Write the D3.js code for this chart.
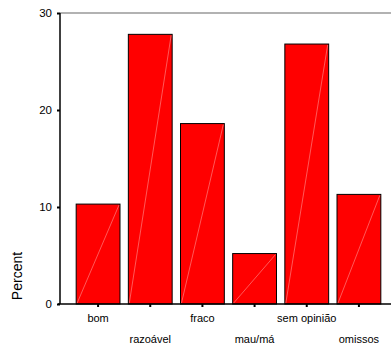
<!DOCTYPE html>
<html><head><meta charset="utf-8">
<script src="https://cdn.jsdelivr.net/npm/d3@7"></script>
<style>body{margin:0;background:#fff}svg{display:block}text{font-family:"Liberation Sans",Arial,sans-serif;fill:#000}</style>
</head><body><svg id="c" width="391" height="351"></svg>
<script>
const categories = ["bom","razoável","fraco","mau/má","sem opinião","omissos"];
const percents = [10.3, 27.8, 18.6, 5.2, 26.8, 11.3];
const yTicks = [0, 10, 20, 30];

const svg = d3.select("#c");
const x = d3.scaleBand().domain(categories).range([72, 385]).paddingInner(0.16).paddingOuter(0.08);
const y = d3.scaleLinear().domain([0, 30]).range([304, 13]);

// top frame line
svg.append("line").attr("x1", 60).attr("x2", 391).attr("y1", y(30)).attr("y2", y(30))
  .attr("stroke", "#666").attr("stroke-width", 1.2);

// bars
const g = svg.append("g");
categories.forEach((c, i) => {
  const x0 = x(c), w = x.bandwidth(), yt = y(percents[i]), yb = y(0);
  g.append("rect").attr("x", x0).attr("y", yt).attr("width", w).attr("height", yb - yt)
    .attr("fill", "#ff0000").attr("stroke", "#000").attr("stroke-width", 1);
  g.append("line").attr("x1", x0 + 1).attr("y1", yb - 1).attr("x2", x0 + w - 1).attr("y2", yt + 1)
    .attr("stroke", "#ffb0b0").attr("stroke-width", 0.5);
});

// y axis
const ya = svg.append("g").attr("transform", "translate(60,0)")
  .call(d3.axisLeft(y).tickValues(yTicks).tickSize(3).tickPadding(5));
ya.select(".domain").attr("stroke", "#000").attr("stroke-width", 1.5).attr("d", `M0,${y(0)}V${y(30)}`);
ya.selectAll(".tick line").attr("stroke", "#000").attr("stroke-width", 2);
ya.selectAll("text").attr("font-size", 11.5).attr("font-family", "Liberation Sans, Arial, sans-serif");

// x axis
const xa = svg.append("g").attr("transform", `translate(0,${y(0)})`)
  .call(d3.axisBottom(x).tickSize(3).tickSizeOuter(0));
xa.select(".domain").attr("stroke", "#000").attr("stroke-width", 1.5).attr("d", "M58,0H391");
xa.selectAll(".tick line").attr("stroke", "#000").attr("stroke-width", 2);
xa.selectAll("text").attr("font-size", 11).attr("font-family", "Liberation Sans, Arial, sans-serif")
  .attr("y", (d, i) => i % 2 === 0 ? 10 : 31);

// y label
svg.append("text").attr("transform", "translate(22,276) rotate(-90)")
  .attr("text-anchor", "middle").attr("font-size", 14).text("Percent");
</script></body></html>
